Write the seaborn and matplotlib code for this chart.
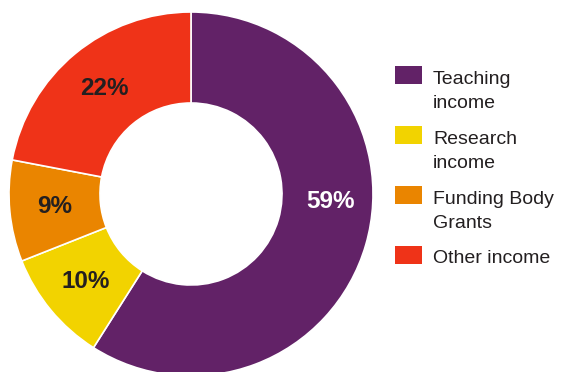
import matplotlib
matplotlib.use("Agg")
import matplotlib.pyplot as plt
from matplotlib.patches import Rectangle
import numpy as np
import seaborn as sns

sns.set_theme(style="white")
plt.rcParams["font.family"] = ["Liberation Sans", "DejaVu Sans"]

# Income breakdown
categories = ["Teaching income", "Research income", "Funding Body Grants", "Other income"]
legend_labels = ["Teaching\nincome", "Research\nincome", "Funding Body\nGrants", "Other income"]
shares = [59, 10, 9, 22]
colors = ["#622267", "#F2D300", "#EA8500", "#EF3318"]
label_colors = ["white", "#231F20", "#231F20", "#231F20"]

fig = plt.figure(figsize=(5.63, 3.72), dpi=100)
W, H = 563, 372
cx, cy, R = 191, 194, 182  # centre and radius in pixels
ax = fig.add_axes([(cx - R) / W, (H - cy - R) / H, 2 * R / W, 2 * R / H])

wedges, _ = ax.pie(
    shares,
    colors=colors,
    startangle=90,
    counterclock=False,
    radius=1.0,
    wedgeprops=dict(width=0.5, edgecolor="white", linewidth=1.2),
)
ax.set_xlim(-1, 1)
ax.set_ylim(-1, 1)
ax.set_aspect("equal")
ax.axis("off")

# Percent labels at the ring middle; the large slice label sits near the right side
label_r = 0.75
for i, (w, val) in enumerate(zip(wedges, shares)):
    ang = (w.theta1 + w.theta2) / 2.0
    if i == 0:
        ang = -3.0
        r = 0.77
    else:
        r = label_r
    x, y = r * np.cos(np.radians(ang)), r * np.sin(np.radians(ang))
    ax.text(x, y, f"{val}%", ha="center", va="center", fontsize=17.5,
            fontweight="bold", color=label_colors[i])

# Legend drawn as swatches and text in pixel units
line_px = 25
for i, (lab, col) in enumerate(zip(legend_labels, colors)):
    top = 66 + 60 * i
    fig.patches.append(Rectangle((395 / W, 1 - (top + 18) / H), 27 / W, 18 / H,
                                 transform=fig.transFigure, facecolor=col,
                                 edgecolor="none"))
    n_lines = lab.count("\n") + 1
    last_base = 83 + 60 * i + line_px * (n_lines - 1)
    fig.text(433 / W, 1 - last_base / H, lab, ha="left", va="baseline",
             fontsize=14, color="#231F20", linespacing=1.55)

fig.savefig("out.png", dpi=100, facecolor="white")
